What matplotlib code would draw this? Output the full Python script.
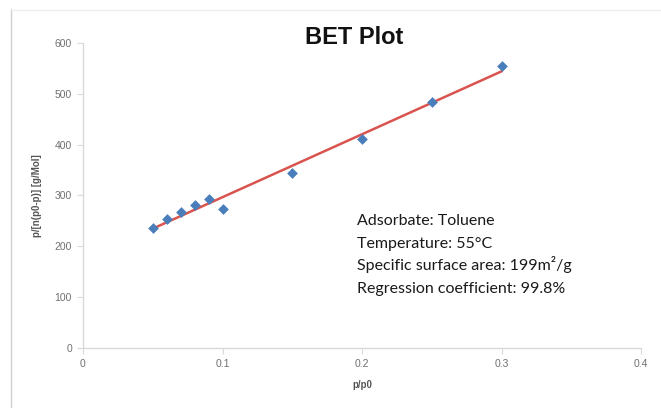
import numpy as np
import matplotlib
matplotlib.use("Agg")
import matplotlib.pyplot as plt
from matplotlib.lines import Line2D

# data
p_p0 = [0.05, 0.06, 0.07, 0.08, 0.09, 0.10, 0.15, 0.20, 0.25, 0.30]
bet_y = [237, 253, 267, 281, 294, 273, 344, 412, 484, 555]
x_ticks = [0, 0.1, 0.2, 0.3, 0.4]
x_tick_labels = ["0", "0.1", "0.2", "0.3", "0.4"]
y_ticks = [0, 100, 200, 300, 400, 500, 600]
info_lines = ["Adsorbate: Toluene",
              "Temperature: 55\u00b0C",
              "Specific surface area: 199m\u00b2/g",
              "Regression coefficient: 99.8%"]

fig = plt.figure(figsize=(6.61, 4.08), dpi=100)
W, H = 661, 408
ax = fig.add_axes([83 / W, 1 - 348 / H, (641 - 83) / W, (348 - 43) / H])

# fit line
slope, intercept = np.polyfit(p_p0, bet_y, 1)
xs = np.array([min(p_p0), max(p_p0)])
ax.plot(xs, slope * xs + intercept, color="#d9534f", lw=1.8, zorder=2)
ax.scatter(p_p0, bet_y, marker="D", s=30, color="#4a7ebb", zorder=3, linewidths=0)

ax.set_xlim(0, 0.4)
ax.set_ylim(0, 600)
ax.set_xticks(x_ticks)
ax.set_xticklabels(x_tick_labels)
ax.set_yticks(y_ticks)

for s in ["top", "right"]:
    ax.spines[s].set_visible(False)
for s in ["left", "bottom"]:
    ax.spines[s].set_color("#d9d9d9")
    ax.spines[s].set_linewidth(1.0)
ax.tick_params(axis="both", length=4, width=0.8, color="#d9d9d9",
               labelsize=7.5, labelcolor="#707070", pad=4)
for lab in ax.get_xticklabels() + ax.get_yticklabels():
    lab.set_family("Liberation Sans")

ax.set_xlabel("p/p0", fontsize=7, color="#555555", fontweight="bold",
              family="Liberation Sans", labelpad=8)
ax.set_ylabel("p/[n(p0-p)] [g/Mol]", fontsize=7, color="#555555",
              fontweight="bold", family="Liberation Sans", labelpad=9)

fig.text(354 / W, 1 - 37 / H, "BET Plot", fontsize=17, fontweight="bold",
         family="Liberation Sans", ha="center", va="center", color="#111111")

for i, t in enumerate(info_lines):
    fig.text(357 / W, 1 - (225 + i * 22.7) / H, t, fontsize=11.5,
             family="Lato", color="#1a1a1a", ha="left", va="baseline")

# faint frame lines
fig.add_artist(Line2D([10.5 / W, 10.5 / W], [0, 1 - 9 / H], transform=fig.transFigure,
                      color="#cfcfcf", lw=1.0))
fig.add_artist(Line2D([10.5 / W, 1], [1 - 9.5 / H, 1 - 9.5 / H], transform=fig.transFigure,
                      color="#efefef", lw=1.0))

fig.savefig("out.png", dpi=100)
